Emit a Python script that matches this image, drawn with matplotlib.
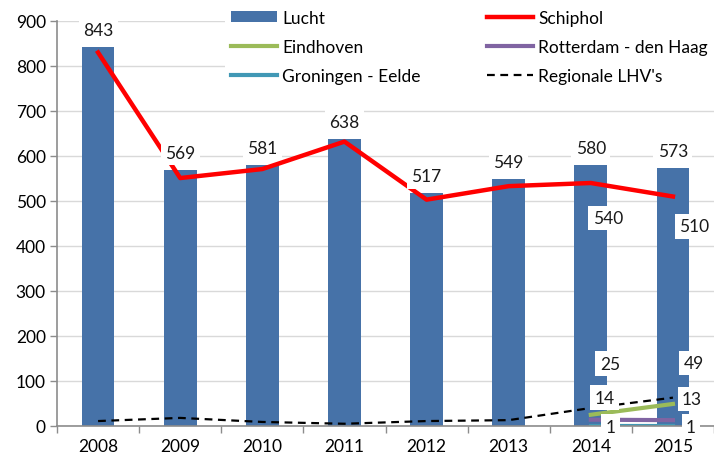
import numpy as np
import matplotlib
matplotlib.use("Agg")
import matplotlib.pyplot as plt

plt.rcParams["font.family"] = ["Lato", "DejaVu Sans"]

years = ["2008", "2009", "2010", "2011", "2012", "2013", "2014", "2015"]
lucht = [843, 569, 581, 638, 517, 549, 580, 573]
schiphol = [830, 551, 571, 632, 503, 533, 540, 510]
eindhoven = [np.nan] * 6 + [25, 49]
rotterdam = [np.nan] * 6 + [14, 13]
groningen = [np.nan] * 6 + [1, 1]
regionale = [11, 18, 9, 5, 11, 13, 40, 63]

BLUE = "#4672A8"
RED = "#FF0000"
GREEN = "#9BBB59"
PURPLE = "#8064A2"
TEAL = "#4198B5"
AXIS_GRAY = "#8C8C8C"

fig = plt.figure(figsize=(7.14, 4.56), dpi=100)
ax = fig.add_axes([57 / 714, 1 - 427 / 456, 1 - 57 / 714, (427 - 22) / 456])

x = np.arange(len(years))
bars = ax.bar(x, lucht, width=0.4, color=BLUE, label="Lucht", zorder=2)
l_sch, = ax.plot(x, schiphol, color=RED, lw=3.2, label="Schiphol", zorder=3)
l_ein, = ax.plot(x, eindhoven, color=GREEN, lw=3, label="Eindhoven", zorder=3)
l_rot, = ax.plot(x, rotterdam, color=PURPLE, lw=3, label="Rotterdam - den Haag", zorder=3)
l_gro, = ax.plot(x, groningen, color=TEAL, lw=3, label="Groningen - Eelde", zorder=3)
l_reg, = ax.plot(x, regionale, color="black", lw=1.6, ls=(0, (3.5, 2.5)),
                 label="Regionale LHV's", zorder=4)

box = dict(boxstyle="square,pad=0.25", fc="white", ec="none")
fs = 12.5


def label(xv, yv, text, dx, dy):
    ax.annotate(text, (xv, yv), xytext=(dx, dy), textcoords="offset pixels",
                ha="center", va="center", fontsize=fs, color="#1a1a1a",
                bbox=box, zorder=6, annotation_clip=False)


for i, v in enumerate(lucht):
    label(x[i], v, str(v), 0, 17)

label(x[6], schiphol[6], str(schiphol[6]), 17, -35)
label(x[7], schiphol[7], str(schiphol[7]), 21, -30)
label(x[6], eindhoven[6], str(eindhoven[6]), 19, 51)
label(x[7], eindhoven[7], str(eindhoven[7]), 21, 41)
label(x[6], rotterdam[6], str(rotterdam[6]), 14, 22)
label(x[7], rotterdam[7], str(rotterdam[7]), 19, 21)
label(x[6], groningen[6], str(groningen[6]), 20, -1)
label(x[7], groningen[7], str(groningen[7]), 18, -1)

ax.set_xlim(-0.5, len(years) - 0.5)
ax.set_ylim(0, 900)
ax.set_yticks(range(0, 901, 100))
ax.set_xticks(x)
ax.set_xticklabels(years)
ax.set_xticks(np.arange(-0.5, len(years)), minor=True)
ax.tick_params(axis="x", which="major", length=0, pad=9, labelsize=fs)
ax.tick_params(axis="x", which="minor", length=5, color=AXIS_GRAY, width=1)
ax.tick_params(axis="y", length=5, color=AXIS_GRAY, width=1, pad=3, labelsize=fs)
ax.yaxis.grid(True, color="#D9D9D9", lw=1, zorder=0)
ax.set_axisbelow(True)
for s in ["top", "right"]:
    ax.spines[s].set_visible(False)
for s in ["left", "bottom"]:
    ax.spines[s].set_color(AXIS_GRAY)
    ax.spines[s].set_linewidth(1.2)
ax.spines["bottom"].set_zorder(5)

handles = [bars, l_ein, l_gro, l_sch, l_rot, l_reg]
leg = fig.legend(handles, [h.get_label() for h in handles], ncol=2,
                 loc="upper left", bbox_to_anchor=(225 / 714, 1 - 5 / 456),
                 frameon=True, fancybox=False, edgecolor="none", facecolor="white",
                 framealpha=1, fontsize=fs, handlelength=2.65, handletextpad=0.3,
                 handleheight=0.6, labelspacing=0.75, columnspacing=3.8,
                 borderpad=0.35, borderaxespad=0)
leg.set_zorder(10)

fig.savefig("out.png", dpi=100)
